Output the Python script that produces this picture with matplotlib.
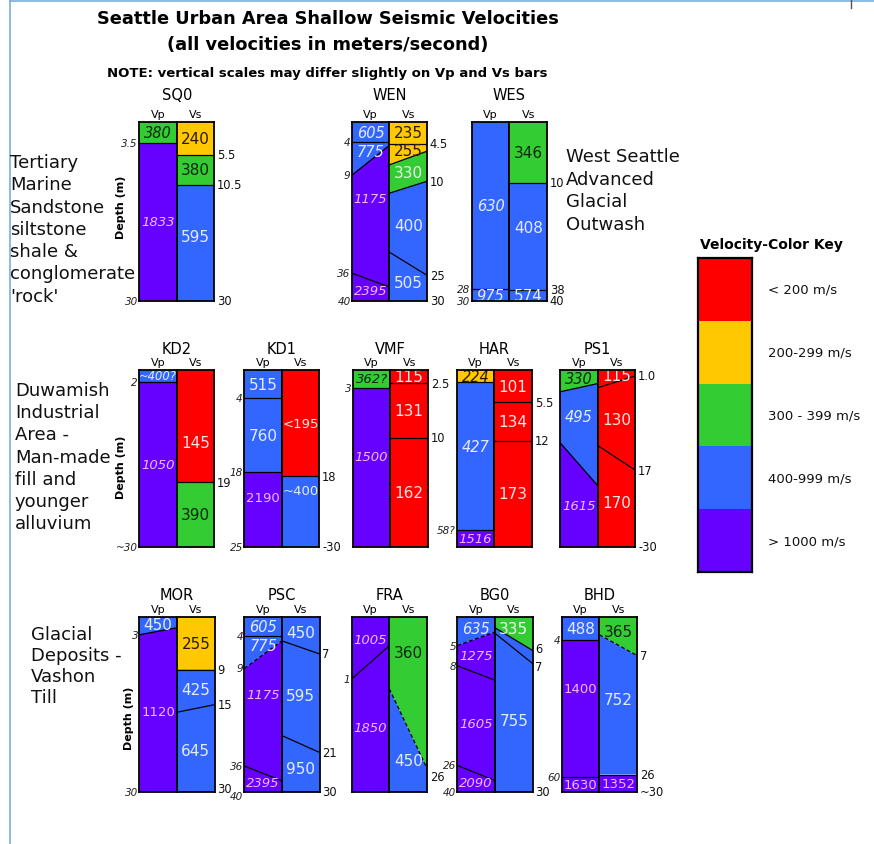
import numpy as np
import matplotlib.pyplot as plt

W, H = 874, 845

# velocity classes (m/s) used for the colour key
KEY_BREAKS = [200, 300, 400, 1000]
KEY_COLORS = ["#ff0000", "#ffc800", "#33cc33", "#3366ff", "#6600ff"]
KEY_TEXT = ["< 200 m/s", "200-299 m/s", "300 - 399 m/s", "400-999 m/s", "> 1000 m/s"]

# layers for every bar: (velocity m/s, depth of layer base in m)
# a tuple base is a dipping contact: (depth at left edge, depth at right edge)
SQ0_VP = [(380, 3.5), (1833, 30)]
SQ0_VS = [(240, 5.5), (380, 10.5), (595, 30)]
WEN_VP = [(605, 4), (775, (9, 4.5)), (1175, (36, 38)), (2395, 40)]
WEN_VS = [(235, 4.5), (255, (7.6, 5.6)), (330, (11.9, 10)), (400, (21.3, 25)), (505, 30)]
WES_VP = [(630, 28), (975, 30)]
WES_VS = [(346, 10), (408, 38), (574, 40)]

KD2_VP = [(400, 2), (1050, 30)]
KD2_VS = [(145, 19), (390, 30)]
KD1_VP = [(515, 4), (760, 18), (2190, 25)]
KD1_VS = [(195, 18), (400, 30)]
VMF_VP = [(362, 3), (1500, 30)]
VMF_VS = [(115, 2.5), (131, 10), (162, 30)]
HAR_VP = [(224, 4.5), (427, 58), (1516, 64)]
HAR_VS = [(101, 5.5), (134, 12), (173, 30)]
PS1_VP = [(330, (3.7, 2.3)), (495, (12.3, 19.6)), (1615, 30)]
PS1_VS = [(115, (3, 1)), (130, (12.8, 17)), (170, 30)]

MOR_VP = [(450, (3, 1.8)), (1120, 30)]
MOR_VS = [(255, 9), (425, (16.3, 15)), (645, 30)]
PSC_VP = [(605, 4), (775, (9, 4.7)), (1175, (36, 38.3)), (2395, 40)]
PSC_VS = [(450, (4.5, 7)), (595, (18.6, 21)), (950, 30)]
FRA_VP = [(1005, (1, 0.46)), (1850, 30)]
FRA_VS = [(360, (12.3, 26)), (450, 30)]
BG0_VP = [(635, (5, 2.6)), (1275, (8, 10.6)), (1605, (26, 34)), (2090, 40)]
BG0_VS = [(335, (1.9, 6)), (755, (2.9, 7)), (755, 30)]
BHD_VP = [(488, 4), (1400, 60), (1630, 65)]
BHD_VS = [(365, (3.2, 7)), (752, 26), (1352, 30)]

# depth numbers written beside the bars (left of Vp, right of Vs)
SQ0_VP_MARKS = ["3.5", "30"]
SQ0_VS_MARKS = ["5.5", "10.5", "30"]
WEN_VP_MARKS = ["4", "9", "36", "40"]
WEN_VS_MARKS = ["4.5", "10", "25", "30"]
WES_VP_MARKS = ["28", "30"]
WES_VS_MARKS = ["10", "38", "40"]
KD2_VP_MARKS = ["2", "~30"]
KD2_VS_MARKS = ["19"]
KD1_VP_MARKS = ["4", "18", "25"]
KD1_VS_MARKS = ["18", "-30"]
VMF_VP_MARKS = ["3"]
VMF_VS_MARKS = ["2.5", "10"]
HAR_VP_MARKS = ["58?"]
HAR_VS_MARKS = ["5.5", "12"]
PS1_VP_MARKS = []
PS1_VS_MARKS = ["1.0", "17", "-30"]
MOR_VP_MARKS = ["3", "30"]
MOR_VS_MARKS = ["9", "15", "30"]
PSC_VP_MARKS = ["4", "9", "36", "40"]
PSC_VS_MARKS = ["7", "21", "30"]
FRA_VP_MARKS = ["1"]
FRA_VS_MARKS = ["26"]
BG0_VP_MARKS = ["5", "8", "26", "40"]
BG0_VS_MARKS = ["6", "7", "30"]
BHD_VP_MARKS = ["4", "60"]
BHD_VS_MARKS = ["7", "26", "~30"]

# velocity labels that carry extra signs, or none at all
LABEL_FMT = {("KD2", "VP", 0): "~{}?", ("KD1", "VS", 0): "<{}", ("KD1", "VS", 1): "~{}",
             ("VMF", "VP", 0): "{}?", ("BG0", "VS", 1): ""}

ROCK_LINES = ["Tertiary", "Marine", "Sandstone", "siltstone", "shale &", "conglomerate", "'rock'"]
FILL_LINES = ["Duwamish", "Industrial", "Area -", "Man-made", "fill and", "younger", "alluvium"]
TILL_LINES = ["Glacial", "Deposits -", "Vashon", "Till"]
OUTWASH_LINES = ["West Seattle", "Advanced", "Glacial", "Outwash"]

# ---- layout (pixels from top-left) ----
BAR_W = 37.7
ROWS = [(123, 302), (371, 548), (618.3, 793)]
TITLE_Y = [95, 350, 596]
VPVS_Y = [114.5, 363, 610.5]
DEPTH_LABEL = [(121, 207), (121, 467), (129, 718)]

SITES = [
    ("SQ0", 139.0, 0, SQ0_VP, SQ0_VP_MARKS, SQ0_VS, SQ0_VS_MARKS),
    ("WEN", 351.7, 0, WEN_VP, WEN_VP_MARKS, WEN_VS, WEN_VS_MARKS),
    ("WES", 471.7, 0, WES_VP, WES_VP_MARKS, WES_VS, WES_VS_MARKS),
    ("KD2", 139.0, 1, KD2_VP, KD2_VP_MARKS, KD2_VS, KD2_VS_MARKS),
    ("KD1", 244.0, 1, KD1_VP, KD1_VP_MARKS, KD1_VS, KD1_VS_MARKS),
    ("VMF", 352.7, 1, VMF_VP, VMF_VP_MARKS, VMF_VS, VMF_VS_MARKS),
    ("HAR", 456.7, 1, HAR_VP, HAR_VP_MARKS, HAR_VS, HAR_VS_MARKS),
    ("PS1", 560.0, 1, PS1_VP, PS1_VP_MARKS, PS1_VS, PS1_VS_MARKS),
    ("MOR", 139.3, 2, MOR_VP, MOR_VP_MARKS, MOR_VS, MOR_VS_MARKS),
    ("PSC", 244.3, 2, PSC_VP, PSC_VP_MARKS, PSC_VS, PSC_VS_MARKS),
    ("FRA", 351.7, 2, FRA_VP, FRA_VP_MARKS, FRA_VS, FRA_VS_MARKS),
    ("BG0", 457.3, 2, BG0_VP, BG0_VP_MARKS, BG0_VS, BG0_VS_MARKS),
    ("BHD", 561.7, 2, BHD_VP, BHD_VP_MARKS, BHD_VS, BHD_VS_MARKS),
]

# the bars are not drawn to one linear depth scale; where they stray, pin depths to bar fractions
DEPTH_KNOTS = {
    ("WEN", "VP"): ([0, 4, 9, 36, 40], [0, 0.112, 0.298, 0.844, 1]),
    ("WEN", "VS"): ([0, 4.5, 10, 25, 30], [0, 0.121, 0.331, 0.857, 1]),
    ("WES", "VS"): ([0, 10, 38, 40], [0, 0.34, 0.937, 1]),
    ("KD1", "VP"): ([0, 4, 18, 25], [0, 0.161, 0.579, 1]),
    ("VMF", "VS"): ([0, 2.5, 10, 30], [0, 0.075, 0.383, 1]),
    ("PSC", "VP"): ([0, 4, 9, 36, 40], [0, 0.109, 0.293, 0.851, 1]),
    ("PSC", "VS"): ([0, 7, 21, 30], [0, 0.21, 0.774, 1]),
    ("FRA", "VP"): ([0, 1, 30], [0, 0.353, 1]),
    ("BG0", "VP"): ([0, 5, 8, 26, 40], [0, 0.162, 0.278, 0.848, 1]),
    ("BG0", "VS"): ([0, 6, 7, 30], [0, 0.19, 0.265, 1]),
    ("BHD", "VP"): ([0, 4, 60, 65], [0, 0.128, 0.913, 1]),
    ("BHD", "VS"): ([0, 7, 26, 30], [0, 0.219, 0.9, 1]),
}

# label heights (fraction of bar) where the layer centre is not used
LABEL_AT = {("WEN", "VP", 2): 0.43, ("KD2", "VS", 0): 0.41, ("KD1", "VP", 2): 0.72,
            ("KD1", "VS", 1): 0.68, ("VMF", "VP", 1): 0.49, ("HAR", "VP", 1): 0.43,
            ("PS1", "VP", 1): 0.26, ("PSC", "VP", 2): 0.44, ("FRA", "VS", 0): 0.2,
            ("BHD", "VP", 1): 0.41, ("BHD", "VS", 1): 0.47, ("WES", "VS", 1): 0.59,
            ("SQ0", "VS", 2): 0.64}

# depth numbers pushed down (pixels) so neighbouring bars' numbers do not collide
MARK_NUDGE = {("PSC", "VP", "40"): 4, ("MOR", "VS", "30"): -3, ("FRA", "VS", "26"): 8,
              ("BG0", "VS", "6"): -2, ("BG0", "VS", "7"): 3}

DASHED = {("FRA", "VS", 0), ("BG0", "VP", 0), ("BHD", "VS", 0), ("PSC", "VP", 1)}
UPRIGHT_VP = {"KD1", "MOR", "BHD"}
LIGHT_ON_GREEN = {("WEN", "VS", 2), ("BG0", "VS", 0)}
TEXT_ON = ["#ffe6e6", "#2a1a00", "#0c260c", "#e4ecff", "#f0b8ff"]


def vel_class(v):
    return int(np.searchsorted(KEY_BREAKS, v, side="right"))


def as_pair(b):
    return b if isinstance(b, tuple) else (b, b)


def px_axes(fig, x, y, w, h):
    return fig.add_axes([x / W, 1 - (y + h) / H, w / W, h / H])


def draw_bar(ax, site, side, layers, marks):
    zmax = as_pair(layers[-1][1])[0]
    zs, fs = DEPTH_KNOTS.get((site, side), ([0, zmax], [0, 1]))
    fwd = lambda d: np.interp(d, zs, fs)
    inv = lambda u: np.interp(u, fs, zs)
    ax.set_yscale("function", functions=(fwd, inv))
    ax.set_xlim(0, 1)
    ax.set_ylim(zmax, 0)
    ax.set_xticks([])
    ax.set_yticks([])
    ax.minorticks_off()
    for sp in ax.spines.values():
        sp.set_linewidth(1.3)
        sp.set_zorder(5)

    top = (0, 0)
    for i, (v, base) in enumerate(layers):
        bot = as_pair(base)
        k = vel_class(v)
        ax.fill([0, 1, 1, 0], [top[0], top[1], bot[1], bot[0]], color=KEY_COLORS[k], lw=0)
        if i < len(layers) - 1:
            ls = (0, (3, 2)) if (site, side, i) in DASHED else "-"
            ax.plot([0, 1], list(bot), color="k", lw=0.9, ls=ls, zorder=3)
        fmt = LABEL_FMT.get((site, side, i), "{}")
        if fmt:
            txt = fmt.format(v)
            frac = LABEL_AT.get((site, side, i), float(np.mean(fwd(np.array(top + bot)))))
            col = TEXT_ON[k]
            if k == 2 and (site, side, i) in LIGHT_ON_GREEN:
                col = "#eafbea"
            italic = side == "VP" and site not in UPRIGHT_VP
            n = len(txt)
            size = (10.5 if italic else 11) if n <= 3 else (9.5 if n == 4 else 8.3)
            ax.text(0.5, 1 - frac, txt, transform=ax.transAxes, ha="center", va="center",
                    fontsize=size, color=col, style="italic" if italic else "normal", zorder=4)
        top = bot

    tr = ax.get_yaxis_transform()
    for m in marks:
        d = float(m.strip("~-?"))
        dy = -MARK_NUDGE.get((site, side, m), 0)
        if side == "VP":
            ax.annotate(m, (-0.03, d), xycoords=tr, xytext=(0, dy), textcoords="offset pixels",
                        ha="right", va="center", fontsize=7.5, style="italic", color="#222222")
        else:
            ax.annotate(m, (1.07, d), xycoords=tr, xytext=(0, dy), textcoords="offset pixels",
                        ha="left", va="center", fontsize=8.3, color="#111111")


fig = plt.figure(figsize=(W / 100, H / 100), dpi=100)

# page axes in pixel units for the free text
page = fig.add_axes([0, 0, 1, 1])
page.set_xlim(0, W)
page.set_ylim(H, 0)
page.axis("off")

page.plot([10, 10], [0, H], color="#7aaee0", lw=1.2)
page.plot([10, W], [2, 2], color="#7aaee0", lw=1.2)
page.plot([851, 851], [0, 9], color="#555555", lw=1)

page.text(328, 19, "Seattle Urban Area Shallow Seismic Velocities", ha="center", va="center",
          fontsize=12.8, fontweight="bold")
page.text(328, 45, "(all velocities in meters/second)", ha="center", va="center",
          fontsize=12.8, fontweight="bold")
page.text(327, 73, "NOTE: vertical scales may differ slightly on Vp and Vs bars", ha="center",
          va="center", fontsize=9.5, fontweight="bold")

for lines, x0, y0, dy in [(ROCK_LINES, 10, 163, 22.3), (FILL_LINES, 15, 391, 22.2),
                          (TILL_LINES, 31, 635, 21.0), (OUTWASH_LINES, 566, 157, 22.7)]:
    for j, s in enumerate(lines):
        page.text(x0, y0 + j * dy, s, ha="left", va="center", fontsize=13, color="#111111")

for x, y in DEPTH_LABEL:
    page.text(x, y, "Depth (m)", rotation=90, ha="center", va="center", fontsize=8,
              fontweight="bold")

for site, x0, row, vp, vp_marks, vs, vs_marks in SITES:
    y_top, y_bot = ROWS[row]
    page.text(x0 + BAR_W, TITLE_Y[row], site, ha="center", va="center", fontsize=10.5)
    page.text(x0 + BAR_W / 2, VPVS_Y[row], "Vp", ha="center", va="center", fontsize=8)
    page.text(x0 + BAR_W * 1.5, VPVS_Y[row], "Vs", ha="center", va="center", fontsize=8)
    ax_p = px_axes(fig, x0, y_top, BAR_W, y_bot - y_top)
    draw_bar(ax_p, site, "VP", vp, vp_marks)
    ax_s = px_axes(fig, x0 + BAR_W, y_top, BAR_W, y_bot - y_top)
    draw_bar(ax_s, site, "VS", vs, vs_marks)

# colour key
page.text(700, 245, "Velocity-Color Key", ha="left", va="center", fontsize=10, fontweight="bold")
key = px_axes(fig, 698, 259, 54, 314)
key.bar(np.full(5, 0.5), np.ones(5), width=1, bottom=np.arange(5), color=KEY_COLORS)
key.set_xlim(0, 1)
key.set_ylim(5, 0)
key.set_xticks([])
key.set_yticks([])
for sp in key.spines.values():
    sp.set_linewidth(1.6)
for i, s in enumerate(KEY_TEXT):
    key.text(1.3, i + 0.5, s, ha="left", va="center", fontsize=9.5, color="#111111")

fig.savefig("out.png", dpi=100)
